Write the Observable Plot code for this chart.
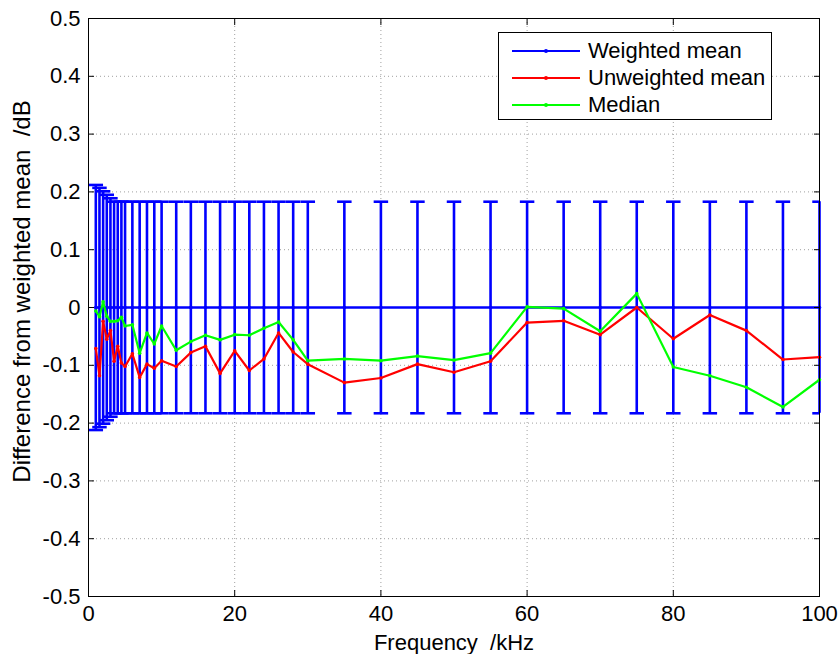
<!DOCTYPE html>
<html>
<head>
<meta charset="utf-8">
<script src="https://cdn.jsdelivr.net/npm/d3@7"></script>
<script src="https://cdn.jsdelivr.net/npm/@observablehq/plot@0.6"></script>
<style>
  html, body { margin: 0; padding: 0; background: #fff; }
  #wrap { position: relative; width: 840px; height: 654px; }
  #legend { position: absolute; left: 498px; top: 32px; width: 274px; height: 88px;
    border: 1px solid #000; background: #fff; box-sizing: border-box;
    font-family: "Liberation Sans", Arial, sans-serif; font-size: 22px; color: #000; }
  .row { position: absolute; left: 0; height: 27px; display: flex; align-items: center; }
  .row svg { margin-left: 13px; margin-right: 8px; }
</style>
</head>
<body>
<div id="wrap"></div>
<script>
// Frequencies (kHz)
const freqs = [1, 1.5, 2, 2.5, 3, 3.5, 4, 4.5, 5, 6, 7, 8, 9, 10, 12, 14, 16, 18, 20, 22, 24, 26, 28, 30,
  35, 40, 45, 50, 55, 60, 65, 70, 75, 80, 85, 90, 95, 100];
// Weighted mean (reference, 0) and its uncertainty half-width (dB)
const weightedMean = [0, 0, 0, 0, 0, 0, 0, 0, 0, 0, 0, 0, 0, 0, 0, 0, 0, 0, 0, 0, 0, 0, 0, 0,
  0, 0, 0, 0, 0, 0, 0, 0, 0, 0, 0, 0, 0, 0];
const uncertainty = [0.212, 0.207, 0.201, 0.195, 0.189, 0.183, 0.183, 0.183, 0.183, 0.183, 0.183, 0.183,
  0.183, 0.183, 0.183, 0.183, 0.183, 0.183, 0.183, 0.183, 0.183, 0.183, 0.183, 0.183,
  0.183, 0.183, 0.183, 0.183, 0.183, 0.183, 0.183, 0.183, 0.183, 0.183, 0.183, 0.183, 0.183, 0.183];
// Unweighted mean (dB, relative to weighted mean)
const unweightedMean = [-0.071, -0.118, -0.024, -0.055, -0.040, -0.093, -0.067, -0.096, -0.102, -0.080,
  -0.121, -0.098, -0.105, -0.092, -0.102, -0.078, -0.067, -0.114, -0.075, -0.109, -0.089, -0.044,
  -0.077, -0.098, -0.130, -0.122, -0.098, -0.112, -0.093, -0.026, -0.023, -0.047, 0.000, -0.054,
  -0.013, -0.040, -0.090, -0.086];
// Median (dB, relative to weighted mean)
const median = [-0.006, -0.016, 0.010, -0.015, -0.024, -0.024, -0.023, -0.017, -0.032, -0.030,
  -0.079, -0.044, -0.063, -0.032, -0.074, -0.059, -0.048, -0.056, -0.047, -0.048, -0.036, -0.025,
  -0.056, -0.092, -0.089, -0.092, -0.084, -0.091, -0.079, 0.001, -0.002, -0.041, 0.024, -0.103,
  -0.118, -0.138, -0.172, -0.125];
// Axis ticks and labels
const xTicks = [0, 20, 40, 60, 80, 100];
const yTicks = [-0.5, -0.4, -0.3, -0.2, -0.1, 0, 0.1, 0.2, 0.3, 0.4, 0.5];
const xLabel = "Frequency  /kHz";
const yLabel = "Difference from weighted mean  /dB";
// Legend
const seriesNames = ["Weighted mean", "Unweighted mean", "Median"];
const seriesColors = ["#0000ff", "#ff0000", "#00ff00"];

const capHalf = 0.99; // errorbar tee half-width in kHz (range/100)

const rows = freqs.map((f, i) => ({
  f, w: weightedMean[i], u: uncertainty[i], um: unweightedMean[i], md: median[i]
}));

const fmtY = d => d === 0 ? "0" : d.toFixed(1);
const font = "'Liberation Sans', Arial, sans-serif";

const chart = Plot.plot({
  width: 840,
  height: 654,
  marginLeft: 88,
  marginRight: 21,
  marginTop: 18,
  marginBottom: 58,
  style: { fontFamily: font, fontSize: "22px", color: "#000", background: "#fff", overflow: "visible" },
  x: { domain: [0, 100], ticks: xTicks },
  y: { domain: [-0.5, 0.5], ticks: yTicks },
  marks: [
    Plot.ruleY(yTicks, { stroke: "#a0a0a0", strokeDasharray: "1,3", strokeWidth: 1 }),
    Plot.ruleX(xTicks, { stroke: "#a0a0a0", strokeDasharray: "1,3", strokeWidth: 1 }),
    // error bars
    Plot.ruleX(rows, { x: "f", y1: d => d.w - d.u, y2: d => d.w + d.u, stroke: seriesColors[0], strokeWidth: 2.6 }),
    Plot.link(rows, { x1: d => d.f - capHalf, x2: d => d.f + capHalf, y1: d => d.w + d.u, y2: d => d.w + d.u,
      stroke: seriesColors[0], strokeWidth: 2.6, clip: true }),
    Plot.link(rows, { x1: d => d.f - capHalf, x2: d => d.f + capHalf, y1: d => d.w - d.u, y2: d => d.w - d.u,
      stroke: seriesColors[0], strokeWidth: 2.6, clip: true }),
    Plot.line(rows, { x: "f", y: "w", stroke: seriesColors[0], strokeWidth: 2.6 }),
    Plot.dot(rows, { x: "f", y: "w", r: 1.8, fill: seriesColors[0] }),
    Plot.line(rows, { x: "f", y: "um", stroke: seriesColors[1], strokeWidth: 2.2 }),
    Plot.dot(rows, { x: "f", y: "um", r: 1.8, fill: seriesColors[1] }),
    Plot.line(rows, { x: "f", y: "md", stroke: seriesColors[2], strokeWidth: 2.2 }),
    Plot.dot(rows, { x: "f", y: "md", r: 1.8, fill: seriesColors[2] }),
    Plot.frame({ stroke: "#000", strokeWidth: 1 }),
    Plot.axisX({ ticks: xTicks, tickSize: -6, tickPadding: 15, label: null, tickFormat: d => String(d) }),
    Plot.axisX({ anchor: "top", ticks: xTicks, tickSize: -6, tickFormat: () => "", label: null }),
    Plot.axisY({ ticks: yTicks, tickSize: -6, tickPadding: 14, tickFormat: fmtY, label: null }),
    Plot.axisY({ anchor: "right", ticks: yTicks, tickSize: -6, tickFormat: () => "", label: null }),
    Plot.text([xLabel], { frameAnchor: "bottom", dy: 46, lineAnchor: "middle", fontSize: 22, fill: "#000" }),
    Plot.text([yLabel], { frameAnchor: "left", dx: -66, dy: -16, rotate: -90, lineAnchor: "middle",
      textAnchor: "middle", fontSize: 24, fill: "#000" })
  ]
});

const wrap = document.getElementById("wrap");
wrap.appendChild(chart);

// Legend box (inside the axes, as in the original)
const legend = document.createElement("div");
legend.id = "legend";
seriesNames.forEach((name, i) => {
  const row = document.createElement("div");
  row.className = "row";
  row.style.top = (4 + i * 27) + "px";
  row.innerHTML = `<svg width="68" height="10"><line x1="0" y1="5" x2="68" y2="5" stroke="${seriesColors[i]}" stroke-width="2.2"/><circle cx="34" cy="5" r="2" fill="${seriesColors[i]}"/></svg><span>${name}</span>`;
  legend.appendChild(row);
});
wrap.appendChild(legend);
</script>
</body>
</html>
